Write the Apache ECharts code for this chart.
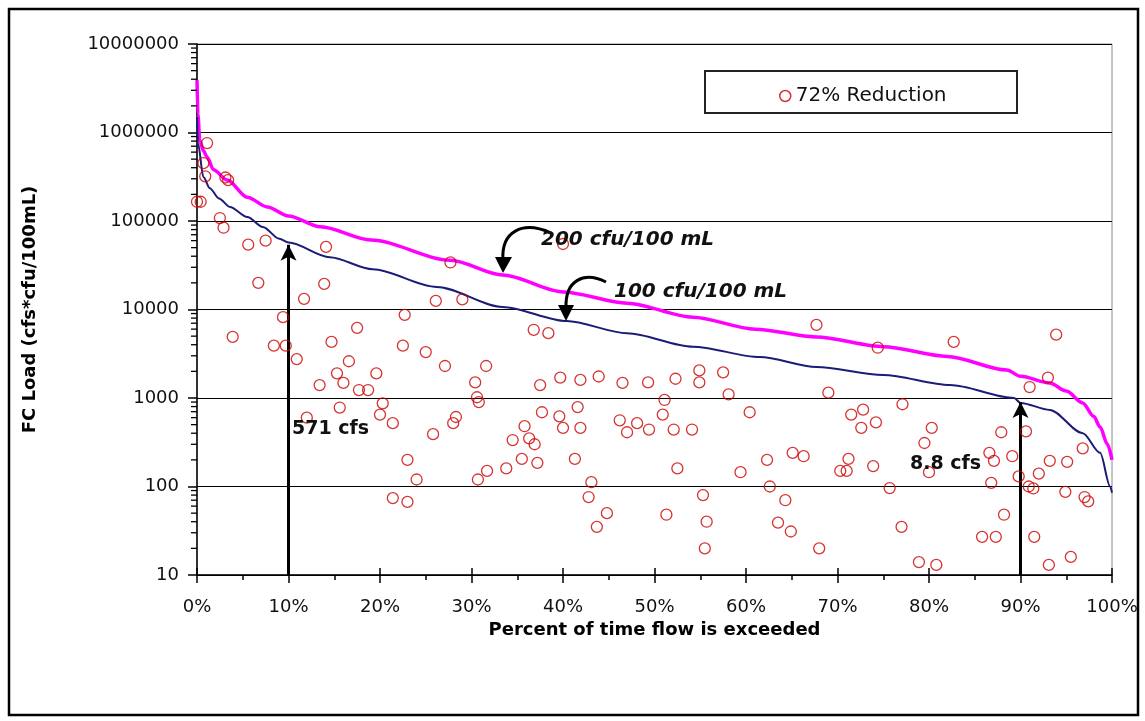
<!DOCTYPE html>
<html>
<head>
<meta charset="utf-8">
<script src="https://cdn.jsdelivr.net/npm/echarts@6/dist/echarts.min.js"></script>
<style>
  html, body { margin: 0; padding: 0; background: #fff; }
  #main { width: 1145px; height: 721px; }
</style>
</head>
<body>
<div id="main"></div>
<script>
// ---- data ----
// 200 cfu/100 mL curve (percent exceeded, load)
var pct200 = [0, 0.1, 0.3, 0.7, 1.1, 1.8, 3.3, 5.5, 7.7, 10, 13.5, 19, 27.7, 33.4, 40, 47, 54.2, 61, 67.7, 75, 82, 88.5, 90, 93.2, 95, 96.8, 98, 98.7, 99.5, 100];
var load200 = [3900000, 1600000, 820000, 620000, 530000, 380000, 290000, 185000, 144000, 114000, 86000, 61000, 36000, 24500, 15800, 11800, 8200, 6000, 4900, 3800, 2950, 2070, 1760, 1480, 1200, 880, 620, 470, 300, 200];
// 100 cfu/100 mL curve
var pct100 = [0, 0.1, 0.7, 1.4, 2.4, 3.6, 5.5, 7.2, 9, 10, 14.5, 19.2, 26.2, 33.4, 40.4, 47, 54.2, 61.5, 67.7, 75, 82.3, 89.3, 90, 93.2, 96.8, 98.7, 99.8, 100];
var load100 = [1500000, 760000, 314000, 235000, 180000, 144000, 111000, 85500, 63000, 57100, 39000, 28500, 18000, 10700, 7400, 5400, 3800, 2900, 2240, 1820, 1400, 1000, 880, 733, 400, 240, 100, 85];
// 72% reduction observations
var obsPct = [0.0, 0.4, 0.7, 0.9, 1.1, 3.1, 3.4, 2.5, 2.9, 5.6, 7.5, 6.7, 3.9, 8.4, 9.7, 9.4,
  10.9, 11.7, 12.0, 13.4, 13.9, 14.1, 14.7, 15.3, 15.6, 16.0, 16.6, 17.5, 17.7, 18.7, 19.6,
  20.0, 20.3, 21.4, 21.4, 22.5, 22.7, 23.0, 23.0, 24.0, 25.0, 25.8, 26.1, 27.1, 27.7, 28.0, 28.3, 29.0,
  30.4, 30.6, 30.8, 30.7, 31.6, 31.7, 33.8, 34.5, 35.5, 35.8, 36.3, 36.8, 36.9, 37.2, 37.5, 37.7, 38.4, 39.6, 39.7, 40.0, 40.0,
  41.3, 41.6, 41.9, 41.9, 42.8, 43.1, 43.7, 43.9, 44.8, 46.2, 46.5, 47.0, 48.1, 49.3, 49.4,
  50.9, 51.1, 51.3, 52.1, 52.3, 52.5, 54.1, 54.9, 54.9, 55.3, 55.7, 55.5, 57.5, 58.1, 59.4, 60.4,
  62.3, 62.6, 63.5, 64.3, 64.9, 65.1, 66.3, 67.7, 68.0, 69.0, 70.3,
  71.0, 71.2, 71.5, 72.6, 72.8, 73.9, 74.2, 74.4, 75.7, 77.0, 77.1, 78.9, 79.5, 80.0, 80.3, 80.8,
  82.7, 85.8, 86.6, 86.8, 87.1, 87.3, 87.9, 88.2, 89.1, 89.8,
  90.6, 90.9, 91.0, 91.4, 91.5, 92.0, 93.0, 93.1, 93.2, 93.9, 94.9, 95.1, 95.5, 96.8, 97.0, 97.4];
var obsLoad = [165000, 165000, 450000, 320000, 760000, 310000, 290000, 108000, 84000, 54000, 60000, 20000, 4900, 3900, 3900, 8200,
  2750, 13200, 600, 1400, 19500, 51000, 4300, 1900, 780, 1480, 2600, 6200, 1230, 1230, 1900,
  650, 870, 520, 74, 3900, 8700, 200, 67, 120, 3300, 390, 12500, 2300, 34000, 520, 610, 13000,
  1500, 1020, 900, 120, 2300, 150, 160, 335, 205, 480, 350, 5900, 300, 185, 1400, 690, 5400, 620, 1700, 460, 55000,
  205, 790, 1600, 460, 76, 112, 35, 1750, 50, 560, 1480, 410, 520, 1500, 440,
  650, 950, 48, 440, 1650, 160, 440, 2050, 1500, 80, 40, 20, 1950, 1100, 145, 690,
  200, 100, 39, 70, 31, 240, 220, 6700, 20, 1150, 150,
  150, 205, 650, 460, 740, 170, 530, 3700, 96, 35, 850, 14, 310, 145, 460, 13,
  4300, 27, 240, 110, 195, 27, 410, 48, 220, 130,
  420, 100, 1330, 95, 27, 140, 1700, 13, 195, 5200, 87, 190, 16, 270, 76, 68];
// flow arrows
var arrowPct = [10, 90];
var arrowLoad = [54000, 900];
var arrowText = ['571 cfs', '8.8 cfs'];
// log axis minor tick positions
var decades = [10, 100, 1000, 10000, 100000, 1000000];
var minorMult = [2, 3, 4, 5, 6, 7, 8, 9];

function pairs(xs, ys) {
    var out = [];
    for (var i = 0; i < xs.length; i++) out.push([xs[i], ys[i]]);
    return out;
}

var minorData = [];
for (var d = 0; d < decades.length; d++) {
    for (var m = 0; m < minorMult.length; m++) {
        minorData.push([0, decades[d] * minorMult[m]]);
    }
}

var FONT = '"DejaVu Sans", sans-serif';

var chart = echarts.init(document.getElementById('main'));
var option = {
    animation: false,
    backgroundColor: '#fff',
    grid: {
        left: 197, right: 33, top: 44, bottom: 146,
        show: true, borderColor: '#8a8a8a', borderWidth: 1, backgroundColor: '#fff'
    },
    legend: {
        left: 774, top: 81,
        itemWidth: 11, itemHeight: 11,
        textStyle: { fontFamily: FONT, fontSize: 20, color: '#111' },
        data: [{
            name: '72% Reduction', icon: 'circle',
            itemStyle: { color: '#fff', borderColor: '#cc0000', borderWidth: 1.5 }
        }],
        z: 10
    },
    xAxis: [{
        type: 'value', min: 0, max: 100, interval: 10,
        name: 'Percent of time flow is exceeded',
        nameLocation: 'middle', nameGap: 45,
        nameTextStyle: { fontFamily: FONT, fontSize: 18, fontWeight: 'bold', color: '#000' },
        axisLine: { show: true, onZero: false, lineStyle: { color: '#000', width: 1.5 } },
        axisTick: { show: true, length: 8, lineStyle: { color: '#000', width: 1.5 } },
        minorTick: { show: true, splitNumber: 2, length: 5, lineStyle: { color: '#000', width: 1.5 } },
        axisLabel: { formatter: '{value}%', margin: 23, fontFamily: FONT, fontSize: 18, color: '#111' },
        splitLine: { show: false }
    }, {
        type: 'value', min: 0, max: 100, interval: 10, position: 'bottom',
        axisLine: { show: false },
        axisTick: { show: true, inside: true, length: 7, lineStyle: { color: '#000', width: 1.5 } },
        axisLabel: { show: false },
        splitLine: { show: false }
    }],
    yAxis: {
        type: 'log', logBase: 10, min: 10, max: 10000000,
        name: 'FC Load (cfs*cfu/100mL)',
        nameLocation: 'middle', nameGap: 158,
        nameTextStyle: { fontFamily: FONT, fontSize: 18, fontWeight: 'bold', color: '#000' },
        axisLine: { show: true, lineStyle: { color: '#000', width: 1.5 } },
        axisTick: { show: true, length: 9, lineStyle: { color: '#000', width: 1.5 } },
        axisLabel: {
            margin: 18, fontFamily: FONT, fontSize: 18, color: '#111',
            formatter: function (v) { return String(Math.round(v)); }
        },
        splitLine: { show: true, lineStyle: { color: '#000', width: 1.2 } }
    },
    series: [{
        name: '200 cfu/100 mL',
        type: 'line',
        data: pairs(pct200, load200),
        showSymbol: false,
        smooth: 0.3, smoothMonotone: 'x',
        lineStyle: { color: '#ff00ff', width: 3.5 },
        z: 3
    }, {
        name: '100 cfu/100 mL',
        type: 'line',
        data: pairs(pct100, load100),
        showSymbol: false,
        smooth: 0.3, smoothMonotone: 'x',
        lineStyle: { color: '#1c1c78', width: 2 },
        z: 4,
        markLine: {
            silent: true,
            symbol: ['none', 'arrow'],
            symbolSize: [12, 16],
            label: { show: false },
            lineStyle: { color: '#000', width: 3, type: 'solid' },
            data: [
                [{ coord: [arrowPct[0], 10] }, { coord: [arrowPct[0], arrowLoad[0]] }],
                [{ coord: [arrowPct[1], 10] }, { coord: [arrowPct[1], arrowLoad[1]] }]
            ]
        }
    }, {
        name: '72% Reduction',
        type: 'scatter',
        data: pairs(obsPct, obsLoad),
        symbol: 'circle',
        symbolSize: 11,
        itemStyle: { color: 'rgba(0,0,0,0)', borderColor: '#cc0000', borderWidth: 1.3 },
        z: 5
    }, {
        name: 'minor',
        type: 'custom',
        silent: true,
        clip: false,
        data: minorData,
        renderItem: function (params, api) {
            var p = api.coord([0, api.value(1)]);
            return {
                type: 'line',
                shape: { x1: p[0] - 6, y1: p[1], x2: p[0], y2: p[1] },
                style: { stroke: '#000', lineWidth: 1.3 }
            };
        },
        z: 6
    }],
    graphic: [
        // outer frame
        { type: 'rect', shape: { x: 9, y: 9, width: 1129, height: 706 },
          style: { fill: 'none', stroke: '#000', lineWidth: 2.5 }, z: 100 },
        // legend box
        { type: 'rect', shape: { x: 705, y: 71, width: 312, height: 42 },
          style: { fill: '#fff', stroke: '#222', lineWidth: 2 }, z: 1 },
        // curved arrow for 200 cfu
        { type: 'bezierCurve',
          shape: { x1: 551, y1: 233, cpx1: 522, cpy1: 220, cpx2: 501, cpy2: 232, x2: 503, y2: 260 },
          style: { fill: 'none', stroke: '#000', lineWidth: 3 }, z: 20 },
        { type: 'polygon', shape: { points: [[495, 257], [512, 257], [503, 273]] },
          style: { fill: '#000' }, z: 20 },
        { type: 'text', x: 541, y: 240,
          style: { text: '200 cfu/100 mL', fontFamily: FONT, fontSize: 20, fontStyle: 'italic', fontWeight: 'bold',
                   fill: '#111', verticalAlign: 'middle' }, z: 20 },
        // curved arrow for 100 cfu
        { type: 'bezierCurve',
          shape: { x1: 606, y1: 282, cpx1: 584, cpy1: 271, cpx2: 565, cpy2: 280, x2: 566, y2: 308 },
          style: { fill: 'none', stroke: '#000', lineWidth: 3 }, z: 20 },
        { type: 'polygon', shape: { points: [[558, 305], [574, 305], [566, 321]] },
          style: { fill: '#000' }, z: 20 },
        { type: 'text', x: 614, y: 292,
          style: { text: '100 cfu/100 mL', fontFamily: FONT, fontSize: 20, fontStyle: 'italic', fontWeight: 'bold',
                   fill: '#111', verticalAlign: 'middle' }, z: 20 },
        // flow labels
        { type: 'text', x: 292, y: 429,
          style: { text: arrowText[0], fontFamily: FONT, fontSize: 19, fontWeight: 'bold', fill: '#111', verticalAlign: 'middle' }, z: 20 },
        { type: 'text', x: 910, y: 464,
          style: { text: arrowText[1], fontFamily: FONT, fontSize: 19, fontWeight: 'bold', fill: '#111', verticalAlign: 'middle' }, z: 20 }
    ]
};
chart.setOption(option);
</script>
</body>
</html>
